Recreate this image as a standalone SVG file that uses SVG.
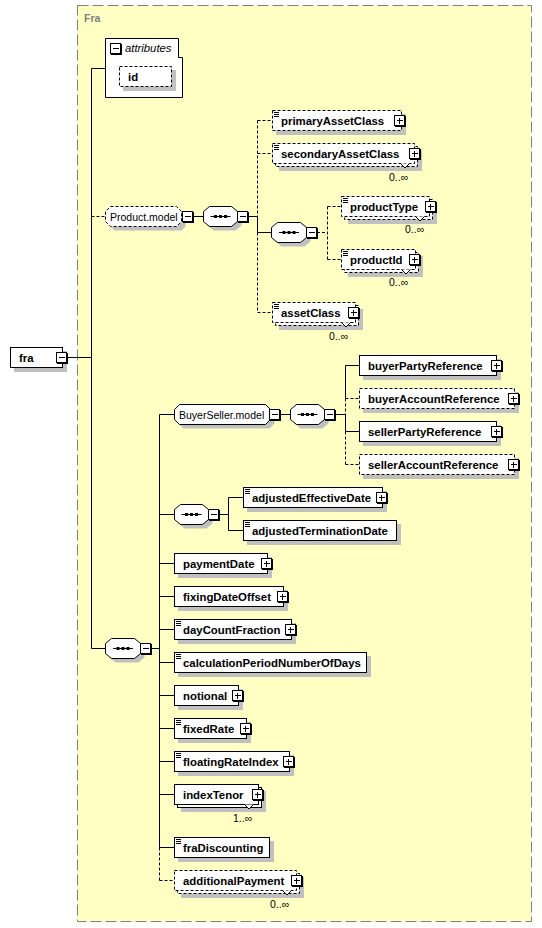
<svg xmlns="http://www.w3.org/2000/svg" xmlns:xlink="http://www.w3.org/1999/xlink" width="542" height="928" viewBox="0 0 542 928">
<style>
.bg{fill:#ffffc4;stroke:#808080;stroke-width:1;stroke-dasharray:11,4}
.ttl{font-family:"Liberation Sans",Arial,sans-serif;font-size:10.5px;font-weight:bold;fill:#808080}
.box{fill:#fff;stroke:#000;stroke-width:1}
.d{stroke-dasharray:3,2}
.sh{fill:#c0c0c0}
.lb{font-family:"Liberation Sans",Arial,sans-serif;font-size:11.4px;font-weight:bold;fill:#000}
.ln{font-family:"Liberation Sans",Arial,sans-serif;font-size:10.5px;fill:#000}
.it{font-family:"Liberation Sans",Arial,sans-serif;font-size:11.3px;font-style:italic;fill:#000}
.oc{font-family:"Liberation Sans",Arial,sans-serif;font-size:10.5px;fill:#000}
.v{fill:#fff;stroke:#000;stroke-width:1}
#connectors path{fill:none;stroke:#000;stroke-width:1}
#connectors path.d{stroke-dasharray:3,2}
</style>
<defs>
<g id="plus" shape-rendering="crispEdges"><rect x="1" y="1" width="11" height="11" fill="#000"/><rect x="0.5" y="0.5" width="10" height="10" fill="#fff" stroke="#000"/><path d="M2.5 5.5H8.5M5.5 2.5V8.5" stroke="#000" fill="none"/></g>
<g id="minus" shape-rendering="crispEdges"><rect x="1" y="1" width="11" height="11" fill="#000"/><rect x="0.5" y="0.5" width="10" height="10" fill="#fff" stroke="#000"/><path d="M2.5 5.5H8.5" stroke="#000" fill="none"/></g>
<path id="icon" d="M2 2.5h5M2 4.5h5M2 6.5h5" stroke="#000" fill="none"/>
<g id="seqdots"><path d="M7 10.5H27" stroke="#000" fill="none"/><rect x="10.5" y="9" width="3" height="3" fill="#000"/><rect x="15.5" y="9" width="3" height="3" fill="#000"/><rect x="20.5" y="9" width="3" height="3" fill="#000"/></g>
</defs>

<rect x="0" y="0" width="542" height="928" fill="#fff"/>
<rect class="bg" x="77.5" y="5.5" width="454" height="916"/>
<text class="ttl" x="84" y="22">Fra</text>

<g id="connectors">
<path d="M67 357.5H91.5"/>
<path d="M91.5 68.5V648.5"/>
<path d="M91.5 68.5H105.5"/>
<path class="d" d="M91.5 216.5H105.5"/>
<path d="M91.5 648.5H105.5"/>
<path d="M193 216.5H203.5"/>
<path d="M248 216.5H257.5"/>
<path class="d" d="M257.5 120.5V216.5"/>
<path d="M257.5 216.5V232.5"/>
<path class="d" d="M257.5 232.5V312.5"/>
<path class="d" d="M257.5 120.5H272.5"/>
<path class="d" d="M257.5 153.5H272.5"/>
<path d="M257.5 232.5H271.5"/>
<path class="d" d="M257.5 312.5H272.5"/>
<path class="d" d="M317 232.5H327.5"/>
<path class="d" d="M327.5 206.5V259.5"/>
<path class="d" d="M327.5 206.5H341.5"/>
<path class="d" d="M327.5 259.5H341.5"/>
<path d="M151 648.5H159.5"/>
<path d="M159.5 414.5V847.5"/>
<path class="d" d="M159.5 847.5V880.5"/>
<path d="M159.5 414.5H174.5"/>
<path d="M159.5 514.5H174.5"/>
<path d="M159.5 563.5H174.5"/>
<path d="M159.5 596.5H174.5"/>
<path d="M159.5 629.5H174.5"/>
<path d="M159.5 662.5H174.5"/>
<path d="M159.5 695.5H174.5"/>
<path d="M159.5 728.5H174.5"/>
<path d="M159.5 761.5H174.5"/>
<path d="M159.5 794.5H174.5"/>
<path d="M159.5 847.5H174.5"/>
<path class="d" d="M159.5 880.5H174.5"/>
<path d="M280 414.5H290.5"/>
<path d="M335 414.5H345.5"/>
<path d="M345.5 365.5V398.5"/>
<path class="d" d="M345.5 398.5V414.5"/>
<path d="M345.5 414.5V431.5"/>
<path class="d" d="M345.5 431.5V464.5"/>
<path d="M345.5 365.5H359.5"/>
<path class="d" d="M345.5 398.5H359.5"/>
<path d="M345.5 431.5H359.5"/>
<path class="d" d="M345.5 464.5H359.5"/>
<path d="M219 514.5H228.5"/>
<path d="M228.5 497.5V530.5"/>
<path d="M228.5 497.5H243.5"/>
<path d="M228.5 530.5H243.5"/>
</g>

<g id="fra">
<rect class="sh" x="14" y="351" width="53" height="21"/>
<rect class="box" x="10.5" y="347.5" width="52" height="20"/>
<text class="lb" x="19" y="361.5">fra</text>
<use xlink:href="#minus" x="56" y="352"/>
</g>

<g id="attributes">
<path class="box" d="M105.5 38.5H178.5V57.5H182.5V97.5H105.5Z"/>
<use xlink:href="#minus" x="110" y="43"/>
<text class="it" x="125" y="52">attributes</text>
</g>

<g id="id">
<rect class="sh" x="123" y="70" width="53" height="21"/>
<rect class="box d" x="119.5" y="66.5" width="52" height="20"/>
<text class="lb" x="128" y="81">id</text>
</g>

<g id="product-model">
<path class="sh" d="M114.5 210.5H181.5L185.5 214.5V226.5L181.5 230.5H114.5L110.5 226.5V214.5Z"/>
<path class="box d" d="M110.5 206.5H176.5L181.5 211.5V221.5L176.5 226.5H110.5L105.5 221.5V211.5Z"/>
<text class="ln" x="110" y="220.5">Product.model</text>
<use xlink:href="#minus" x="182" y="211"/>
</g>

<g id="seq1">
<path class="sh" d="M213.5 210.5H235.5L241.5 215.5V225.5L235.5 230.5H213.5L207.5 225.5V215.5Z"/>
<path class="box" d="M209.5 206.5H231.5L237.5 211.5V221.5L231.5 226.5H209.5L203.5 221.5V211.5Z"/>
<use xlink:href="#seqdots" x="203.5" y="206"/>
<use xlink:href="#minus" x="237" y="211"/>
</g>

<g id="primaryAssetClass">
<rect class="sh" x="276" y="114" width="130" height="21"/>
<rect class="box d" x="272.5" y="110.5" width="129" height="20"/>
<use xlink:href="#icon" x="272" y="110"/>
<text class="lb" x="281" y="125">primaryAssetClass</text>
<use xlink:href="#plus" x="394" y="115"/>
</g>

<g id="secondaryAssetClass">
<rect class="sh" x="279" y="150" width="143" height="21"/>
<rect class="box d" x="275.5" y="146.5" width="142" height="20"/>
<rect class="box d" x="272.5" y="143.5" width="142" height="20"/>
<polyline class="v" points="400.5,163.5 405,168 409.5,163.5"/>
<use xlink:href="#icon" x="272" y="143"/>
<text class="lb" x="281" y="158">secondaryAssetClass</text>
<use xlink:href="#plus" x="409" y="148"/>
<text class="oc" x="389" y="180.5">0..∞</text>
</g>

<g id="seq2">
<path class="sh" d="M281.5 226.5H304.5L310.5 231.5V241.5L304.5 246.5H281.5L275.5 241.5V231.5Z"/>
<path class="box" d="M277.5 222.5H300.5L306.5 227.5V237.5L300.5 242.5H277.5L271.5 237.5V227.5Z"/>
<use xlink:href="#seqdots" x="272" y="222"/>
<use xlink:href="#minus" x="306" y="227"/>
</g>

<g id="productType">
<rect class="sh" x="348" y="203" width="89" height="21"/>
<rect class="box d" x="344.5" y="199.5" width="88" height="20"/>
<rect class="box d" x="341.5" y="196.5" width="88" height="20"/>
<polyline class="v" points="415.5,216.5 420,221 424.5,216.5"/>
<use xlink:href="#icon" x="341" y="196"/>
<text class="lb" x="350" y="211">productType</text>
<use xlink:href="#plus" x="425" y="201"/>
<text class="oc" x="405" y="233">0..∞</text>
</g>

<g id="productId">
<rect class="sh" x="348" y="256" width="75" height="21"/>
<rect class="box d" x="344.5" y="252.5" width="74" height="20"/>
<rect class="box d" x="341.5" y="249.5" width="74" height="20"/>
<polyline class="v" points="401.5,269.5 406,274 410.5,269.5"/>
<use xlink:href="#icon" x="341" y="249"/>
<text class="lb" x="350" y="264">productId</text>
<use xlink:href="#plus" x="409" y="254"/>
<text class="oc" x="389" y="286">0..∞</text>
</g>

<g id="assetClass">
<rect class="sh" x="279" y="309" width="84" height="21"/>
<rect class="box d" x="275.5" y="305.5" width="83" height="20"/>
<rect class="box d" x="272.5" y="302.5" width="83" height="20"/>
<polyline class="v" points="341.5,322.5 346,327 350.5,322.5"/>
<use xlink:href="#icon" x="272" y="302"/>
<text class="lb" x="281" y="317">assetClass</text>
<use xlink:href="#plus" x="348" y="307"/>
<text class="oc" x="329" y="340">0..∞</text>
</g>

<g id="buyerseller-model">
<path class="sh" d="M183.5 408.5H269.5L274.5 413.5V423.5L269.5 428.5H183.5L178.5 423.5V413.5Z"/>
<path class="box" d="M179.5 404.5H265.5L270.5 409.5V419.5L265.5 424.5H179.5L174.5 419.5V409.5Z"/>
<text class="ln" x="179" y="418.5">BuyerSeller.model</text>
<use xlink:href="#minus" x="269" y="409"/>
</g>

<g id="seq3">
<path class="sh" d="M300.5 408.5H322.5L328.5 413.5V423.5L322.5 428.5H300.5L294.5 423.5V413.5Z"/>
<path class="box" d="M296.5 404.5H318.5L324.5 409.5V419.5L318.5 424.5H296.5L290.5 419.5V409.5Z"/>
<use xlink:href="#seqdots" x="290.5" y="404"/>
<use xlink:href="#minus" x="324" y="409"/>
</g>

<g id="buyerPartyReference">
<rect class="sh" x="363" y="359" width="138" height="21"/>
<rect class="box" x="359.5" y="355.5" width="137" height="20"/>
<text class="lb" x="368" y="370">buyerPartyReference</text>
<use xlink:href="#plus" x="491" y="360"/>
</g>

<g id="buyerAccountReference">
<rect class="sh" x="363" y="392" width="156" height="21"/>
<rect class="box d" x="359.5" y="388.5" width="155" height="20"/>
<text class="lb" x="368" y="403">buyerAccountReference</text>
<use xlink:href="#plus" x="508" y="393"/>
</g>

<g id="sellerPartyReference">
<rect class="sh" x="363" y="425" width="138" height="21"/>
<rect class="box" x="359.5" y="421.5" width="137" height="20"/>
<text class="lb" x="368" y="436">sellerPartyReference</text>
<use xlink:href="#plus" x="491" y="426"/>
</g>

<g id="sellerAccountReference">
<rect class="sh" x="363" y="458" width="156" height="21"/>
<rect class="box d" x="359.5" y="454.5" width="155" height="20"/>
<text class="lb" x="368" y="469">sellerAccountReference</text>
<use xlink:href="#plus" x="508" y="459"/>
</g>

<g id="seq4">
<path class="sh" d="M184.5 508.5H206.5L212.5 513.5V523.5L206.5 528.5H184.5L178.5 523.5V513.5Z"/>
<path class="box" d="M180.5 504.5H202.5L208.5 509.5V519.5L202.5 524.5H180.5L174.5 519.5V509.5Z"/>
<use xlink:href="#seqdots" x="174.5" y="504"/>
<use xlink:href="#minus" x="208" y="509"/>
</g>

<g id="adjustedEffectiveDate">
<rect class="sh" x="247" y="491" width="140" height="21"/>
<rect class="box" x="243.5" y="487.5" width="139" height="20"/>
<use xlink:href="#icon" x="243" y="487"/>
<text class="lb" x="252" y="502">adjustedEffectiveDate</text>
<use xlink:href="#plus" x="376" y="492"/>
</g>

<g id="adjustedTerminationDate">
<rect class="sh" x="247" y="524" width="154" height="21"/>
<rect class="box" x="243.5" y="520.5" width="153" height="20"/>
<use xlink:href="#icon" x="243" y="520"/>
<text class="lb" x="252" y="535">adjustedTerminationDate</text>
</g>

<g id="paymentDate">
<rect class="sh" x="178" y="557" width="94" height="21"/>
<rect class="box" x="174.5" y="553.5" width="93" height="20"/>
<text class="lb" x="183" y="568">paymentDate</text>
<use xlink:href="#plus" x="261" y="558"/>
</g>

<g id="fixingDateOffset">
<rect class="sh" x="178" y="590" width="110" height="21"/>
<rect class="box" x="174.5" y="586.5" width="109" height="20"/>
<text class="lb" x="183" y="601">fixingDateOffset</text>
<use xlink:href="#plus" x="277" y="591"/>
</g>

<g id="dayCountFraction">
<rect class="sh" x="178" y="623" width="118" height="21"/>
<rect class="box" x="174.5" y="619.5" width="117" height="20"/>
<use xlink:href="#icon" x="174" y="619"/>
<text class="lb" x="183" y="634">dayCountFraction</text>
<use xlink:href="#plus" x="285" y="624"/>
</g>

<g id="calculationPeriodNumberOfDays">
<rect class="sh" x="178" y="656" width="193" height="21"/>
<rect class="box" x="174.5" y="652.5" width="192" height="20"/>
<use xlink:href="#icon" x="174" y="652"/>
<text class="lb" x="183" y="667">calculationPeriodNumberOfDays</text>
</g>

<g id="notional">
<rect class="sh" x="178" y="689" width="65" height="21"/>
<rect class="box" x="174.5" y="685.5" width="64" height="20"/>
<text class="lb" x="183" y="700">notional</text>
<use xlink:href="#plus" x="232" y="690"/>
</g>

<g id="fixedRate">
<rect class="sh" x="178" y="722" width="73" height="21"/>
<rect class="box" x="174.5" y="718.5" width="72" height="20"/>
<use xlink:href="#icon" x="174" y="718"/>
<text class="lb" x="183" y="733">fixedRate</text>
<use xlink:href="#plus" x="240" y="723"/>
</g>

<g id="floatingRateIndex">
<rect class="sh" x="178" y="755" width="116" height="21"/>
<rect class="box" x="174.5" y="751.5" width="115" height="20"/>
<use xlink:href="#icon" x="174" y="751"/>
<text class="lb" x="183" y="766">floatingRateIndex</text>
<use xlink:href="#plus" x="283" y="756"/>
</g>

<g id="indexTenor">
<rect class="sh" x="181" y="791" width="85" height="21"/>
<rect class="box" x="177.5" y="787.5" width="84" height="20"/>
<rect class="box" x="174.5" y="784.5" width="84" height="20"/>
<polyline class="v" points="244.5,804.5 249,809 253.5,804.5"/>
<text class="lb" x="183" y="799">indexTenor</text>
<use xlink:href="#plus" x="252" y="789"/>
<text class="oc" x="233" y="821.5">1..∞</text>
</g>

<g id="fraDiscounting">
<rect class="sh" x="178" y="841" width="96" height="21"/>
<rect class="box" x="174.5" y="837.5" width="95" height="20"/>
<use xlink:href="#icon" x="174" y="837"/>
<text class="lb" x="183" y="852">fraDiscounting</text>
</g>

<g id="additionalPayment">
<rect class="sh" x="181" y="877" width="123" height="21"/>
<rect class="box d" x="177.5" y="873.5" width="122" height="20"/>
<rect class="box d" x="174.5" y="870.5" width="122" height="20"/>
<polyline class="v" points="282.5,890.5 287,895 291.5,890.5"/>
<text class="lb" x="183" y="885">additionalPayment</text>
<use xlink:href="#plus" x="291" y="875"/>
<text class="oc" x="270" y="907.5">0..∞</text>
</g>

<g id="seq-main">
<path class="sh" d="M115.5 642.5H138.5L144.5 647.5V657.5L138.5 662.5H115.5L109.5 657.5V647.5Z"/>
<path class="box" d="M111.5 638.5H134.5L140.5 643.5V653.5L134.5 658.5H111.5L105.5 653.5V643.5Z"/>
<use xlink:href="#seqdots" x="106" y="638"/>
<use xlink:href="#minus" x="140" y="643"/>
</g>
</svg>
